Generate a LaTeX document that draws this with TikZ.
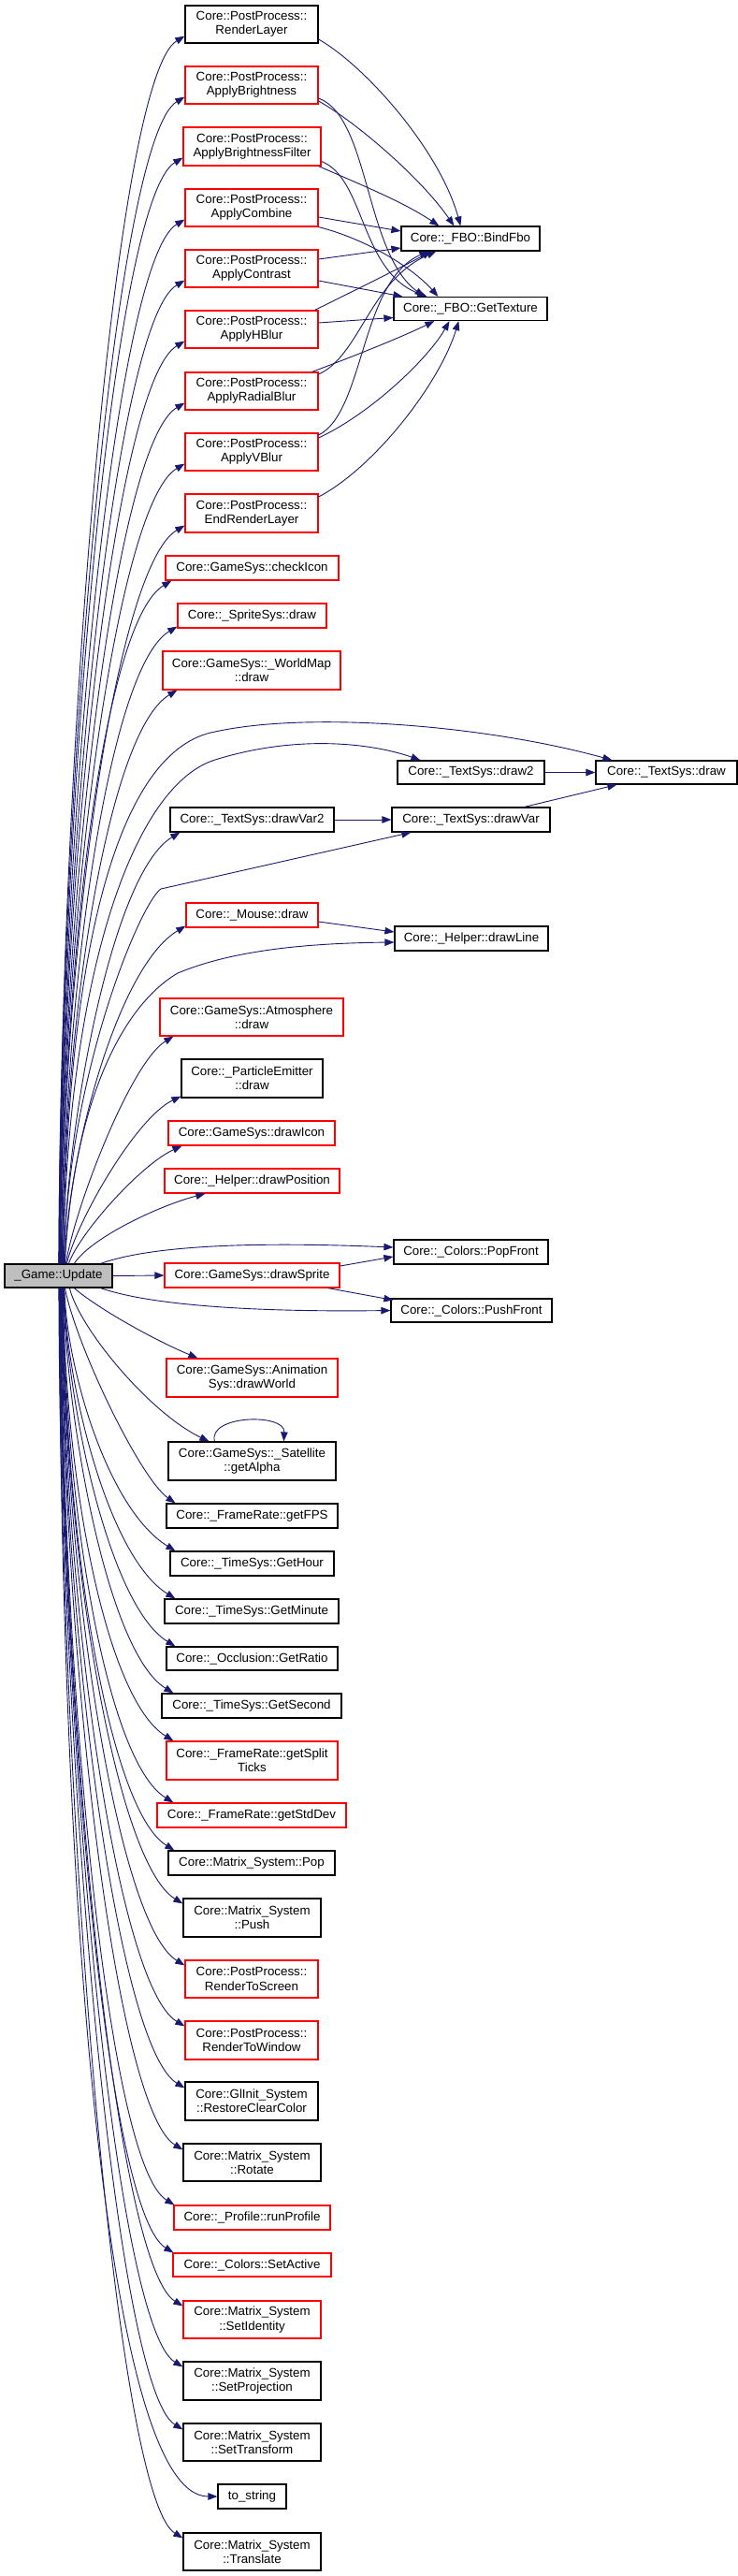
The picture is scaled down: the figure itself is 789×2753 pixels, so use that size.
\documentclass[tikz,border=0pt]{standalone}
\usepackage{fontspec}
\setmainfont{Liberation Sans}
\usetikzlibrary{arrows.meta}
\definecolor{edgec}{HTML}{191970}
\definecolor{updfill}{HTML}{BFBFBF}
\newcommand\fnt{\fontsize{13.33pt}{15.3pt}\selectfont}
\tikzset{
  nb/.style={draw=black, fill=white, line width=1.2pt, inner sep=0pt, align=center, font=\fnt},
  nr/.style={nb, draw=red},
  ng/.style={nb, fill=updfill},
  e/.style={draw=edgec, line width=0.9pt, -{Triangle[length=10pt,width=7.5pt]}}
}
\begin{document}
\begin{tikzpicture}[x=1pt,y=-1pt]
\fill[white, use as bounding box] (0,0) rectangle (789,2753);
% upper column
\node[nb, minimum width=142, minimum height=40] (rl) at (269,26) {Core::PostProcess::\\RenderLayer};
\node[nr, minimum width=142, minimum height=40] (ab) at (269,91) {Core::PostProcess::\\ApplyBrightness};
\node[nr, minimum width=147, minimum height=41] (abf) at (269.5,156.5) {Core::PostProcess::\\ApplyBrightnessFilter};
\node[nr, minimum width=142, minimum height=40] (ac) at (269,222) {Core::PostProcess::\\ApplyCombine};
\node[nr, minimum width=142, minimum height=40] (act) at (269,287) {Core::PostProcess::\\ApplyContrast};
\node[nr, minimum width=142, minimum height=40] (ah) at (269,352) {Core::PostProcess::\\ApplyHBlur};
\node[nr, minimum width=142, minimum height=40] (arb) at (269,418) {Core::PostProcess::\\ApplyRadialBlur};
\node[nr, minimum width=142, minimum height=40] (av) at (269,483) {Core::PostProcess::\\ApplyVBlur};
\node[nr, minimum width=142, minimum height=41] (erl) at (269,548.5) {Core::PostProcess::\\EndRenderLayer};
\node[nr, minimum width=185, minimum height=26] (ci) at (269.5,607) {Core::GameSys::checkIcon};
\node[nr, minimum width=159, minimum height=26] (ssd) at (269.5,658) {Core::\_SpriteSys::draw};
\node[nr, minimum width=190, minimum height=41] (wm) at (269,716.5) {Core::GameSys::\_WorldMap\\::draw};
\node[nb, minimum width=157, minimum height=25] (td2) at (503.5,825.5) {Core::\_TextSys::draw2};
\node[nb, minimum width=151, minimum height=25] (td) at (712.5,825.5) {Core::\_TextSys::draw};
\node[nb, minimum width=175, minimum height=26] (dv2) at (269.5,876) {Core::\_TextSys::drawVar2};
\node[nb, minimum width=169, minimum height=26] (dv) at (503.5,876) {Core::\_TextSys::drawVar};
\node[nr, minimum width=141, minimum height=26] (md) at (269.5,978) {Core::\_Mouse::draw};
\node[nb, minimum width=164, minimum height=26] (dl) at (504,1003) {Core::\_Helper::drawLine};
\node[nr, minimum width=196, minimum height=40] (atm) at (269,1087) {Core::GameSys::Atmosphere\\::draw};
\node[nb, minimum width=151, minimum height=41] (pe) at (269.5,1152.5) {Core::\_ParticleEmitter\\::draw};
\node[nr, minimum width=178, minimum height=26] (di) at (269,1211) {Core::GameSys::drawIcon};
\node[nr, minimum width=187, minimum height=26] (dp) at (269.5,1262) {Core::\_Helper::drawPosition};
\node[nb, minimum width=165, minimum height=26] (pf) at (503.5,1338) {Core::\_Colors::PopFront};
\node[ng, minimum width=115, minimum height=25] (upd) at (62.5,1363.5) {\_Game::Update};
\node[nr, minimum width=187, minimum height=26] (ds) at (269.5,1363) {Core::GameSys::drawSprite};
\node[nb, minimum width=172, minimum height=25] (psf) at (504,1400.5) {Core::\_Colors::PushFront};
\node[nr, minimum width=183, minimum height=41] (aw) at (269.5,1472.5) {Core::GameSys::Animation\\Sys::drawWorld};
\node[nb, minimum width=179, minimum height=41] (sat) at (269.5,1561.5) {Core::GameSys::\_Satellite\\::getAlpha};
\node[nb, minimum width=183, minimum height=26] (fps) at (269.5,1620) {Core::\_FrameRate::getFPS};
\node[nb, minimum width=175, minimum height=26] (gh) at (269.5,1671) {Core::\_TimeSys::GetHour};
\node[nb, minimum width=186, minimum height=26] (gm) at (269,1722) {Core::\_TimeSys::GetMinute};
\node[nb, minimum width=183, minimum height=25] (gr) at (269.5,1772.5) {Core::\_Occlusion::GetRatio};
\node[nb, minimum width=192, minimum height=26] (gs) at (269,1823) {Core::\_TimeSys::GetSecond};
\node[nr, minimum width=183, minimum height=41] (gst) at (269.5,1881.5) {Core::\_FrameRate::getSplit\\Ticks};
\node[nr, minimum width=202, minimum height=26] (gsd) at (269,1940) {Core::\_FrameRate::getStdDev};
\node[nb, minimum width=178, minimum height=26] (pop) at (269,1991) {Core::Matrix\_System::Pop};
\node[nb, minimum width=147, minimum height=41] (push) at (269.5,2049.5) {Core::Matrix\_System\\::Push};
\node[nr, minimum width=142, minimum height=40] (rts) at (269,2115) {Core::PostProcess::\\RenderToScreen};
\node[nr, minimum width=142, minimum height=41] (rtw) at (269,2180.5) {Core::PostProcess::\\RenderToWindow};
\node[nb, minimum width=142, minimum height=41] (rcc) at (269,2245.5) {Core::GlInit\_System\\::RestoreClearColor};
\node[nb, minimum width=147, minimum height=40] (rot) at (269.5,2311) {Core::Matrix\_System\\::Rotate};
\node[nr, minimum width=167, minimum height=26] (rp) at (269.5,2370) {Core::\_Profile::runProfile};
\node[nr, minimum width=169, minimum height=25] (sa) at (269.5,2420.5) {Core::\_Colors::SetActive};
\node[nr, minimum width=147, minimum height=40] (si) at (269.5,2479) {Core::Matrix\_System\\::SetIdentity};
\node[nb, minimum width=147, minimum height=41] (sp) at (269.5,2544.5) {Core::Matrix\_System\\::SetProjection};
\node[nb, minimum width=147, minimum height=40] (st) at (269.5,2610) {Core::Matrix\_System\\::SetTransform};
\node[nb, minimum width=73, minimum height=26] (ts) at (269.5,2668) {to\_string};
\node[nb, minimum width=147, minimum height=40] (tr) at (269.5,2727) {Core::Matrix\_System\\::Translate};
\node[nb, minimum width=148, minimum height=26] (bf) at (503,255) {Core::\_FBO::BindFbo};
\node[nb, minimum width=164, minimum height=25] (gt) at (503,330) {Core::\_FBO::GetTexture};

% Update -> upper column
\draw[e] ([xshift=58.5pt]upd.north west) .. controls (64.5,800) and (123,83) .. ([yshift=8pt]rl.south west);
\draw[e] ([xshift=58.5pt]upd.north west) .. controls (64.5,827) and (123,148) .. ([yshift=8pt]ab.south west);
\draw[e] ([xshift=59pt]upd.north west) .. controls (65,854) and (121,213) .. ([yshift=9pt]abf.south west);
\draw[e] ([xshift=59pt]upd.north west) .. controls (65,882) and (123,279) .. ([yshift=8pt]ac.south west);
\draw[e] ([xshift=59.5pt]upd.north west) .. controls (65.5,909) and (123,344) .. ([yshift=8pt]act.south west);
\draw[e] ([xshift=59.5pt]upd.north west) .. controls (65.5,936) and (123,409) .. ([yshift=8pt]ah.south west);
\draw[e] ([xshift=60pt]upd.north west) .. controls (66,964) and (123,475) .. ([yshift=8pt]arb.south west);
\draw[e] ([xshift=60pt]upd.north west) .. controls (66,991) and (123,540) .. ([yshift=8pt]av.south west);
\draw[e] ([xshift=61pt]upd.north west) .. controls (67,1019) and (123,606) .. ([yshift=8pt]erl.south west);
\draw[e] ([xshift=61pt]upd.north west) .. controls (67,1044) and (109,665) .. ([xshift=7pt]ci.south west);
\draw[e] ([xshift=62pt]upd.north west) .. controls (68,1065) and (115,714) .. ([yshift=2pt]ssd.south west);
\draw[e] ([xshift=62pt]upd.north west) .. controls (68,1093) and (115,782) .. ([xshift=16pt]wm.south west);
\draw[e] ([xshift=63pt]upd.north west) .. controls (72,1000) and (130,800) .. (230,782) .. controls (330,760) and (520,775) .. ([xshift=18pt]td.north west);
\draw[e] ([xshift=63pt]upd.north west) .. controls (72,1050) and (140,840) .. (230,812) .. controls (320,784) and (400,795) .. ([xshift=25pt]td2.north west);
\draw[e] ([xshift=64pt]upd.north west) .. controls (70,1212) and (118,934) .. ([xshift=11pt]dv2.south west);
\draw[e] ([xshift=64pt]upd.north west) .. controls (72,1150) and (150,965) .. (172,950) -- ([xshift=21pt]dv.south west);
\draw[e] ([xshift=65pt]upd.north west) .. controls (71,1242) and (124,1034) .. ([yshift=2pt]md.south west);
\draw[e] ([xshift=65pt]upd.north west) .. controls (78,1180) and (130,1075) .. (190,1040) .. controls (250,1015) and (330,1008) .. ([yshift=-4pt]dl.west);
\draw[e] ([xshift=66pt]upd.north west) .. controls (80,1290) and (140,1135) .. ([xshift=15pt]atm.south west);
\draw[e] ([xshift=67pt]upd.north west) .. controls (82,1305) and (145,1195) .. ([yshift=2pt]pe.south west);
\draw[e] ([xshift=69pt]upd.north west) .. controls (85,1318) and (150,1245) .. ([xshift=15pt]di.south west);
\draw[e] ([xshift=75pt]upd.north west) .. controls (95,1325) and (165,1290) .. ([xshift=44pt]dp.south west);
\draw[e] ([xshift=-13pt]upd.north east) .. controls (170,1328) and (300,1328) .. ([yshift=5pt]pf.west);
\draw[e] (upd.east) -- (ds.west);
\draw[e] ([xshift=-13pt]upd.south east) .. controls (170,1398) and (300,1402) .. (psf.west);

% Update -> lower column
\draw[e] ([xshift=75pt]upd.south west) .. controls (100,1395) and (160,1430) .. ([xshift=34pt]aw.north west);
\draw[e] ([xshift=70pt]upd.south west) .. controls (85,1420) and (160,1510) .. ([xshift=44pt]sat.north west);
\draw[e] ([xshift=65pt]upd.south west) .. controls (82,1440) and (150,1580) .. ([xshift=10pt]fps.north west);
\draw[e] ([xshift=64.5pt]upd.south west) .. controls (70.5,1461) and (115,1613) .. ([xshift=6pt]gh.north west);
\draw[e] ([xshift=64pt]upd.south west) .. controls (70,1476) and (115,1664) .. ([xshift=12pt]gm.north west);
\draw[e] ([xshift=64pt]upd.south west) .. controls (70,1491) and (115,1715) .. ([xshift=10pt]gr.north west);
\draw[e] ([xshift=63.5pt]upd.south west) .. controls (69.5,1506) and (113,1765) .. ([xshift=13pt]gs.north west);
\draw[e] ([xshift=63pt]upd.south west) .. controls (69,1580) and (113,1816) .. ([xshift=8pt]gst.north west);
\draw[e] ([xshift=63pt]upd.south west) .. controls (69,1607) and (113,1882) .. ([xshift=18pt]gsd.north west);
\draw[e] ([xshift=62.5pt]upd.south west) .. controls (68.5,1629) and (114,1933) .. ([xshift=7pt]pop.north west);
\draw[e] ([xshift=62pt]upd.south west) .. controls (68,1653) and (123,1990) .. ([yshift=-6pt]push.north west);
\draw[e] ([xshift=62pt]upd.south west) .. controls (68,1681) and (125,2056) .. ([yshift=-6pt]rts.north west);
\draw[e] ([xshift=61.5pt]upd.south west) .. controls (67.5,1708) and (125,2122) .. ([yshift=-6pt]rtw.north west);
\draw[e] ([xshift=61pt]upd.south west) .. controls (67,1736) and (125,2187) .. ([yshift=-7pt]rcc.north west);
\draw[e] ([xshift=61pt]upd.south west) .. controls (67,1763) and (123,2253) .. ([yshift=-7pt]rot.north west);
\draw[e] ([xshift=60.5pt]upd.south west) .. controls (66.5,1788) and (114,2312) .. ([xshift=1pt]rp.north west);
\draw[e] ([xshift=60pt]upd.south west) .. controls (66,1809) and (113,2363) .. ([xshift=1pt]sa.north west);
\draw[e] ([xshift=60pt]upd.south west) .. controls (66,1833) and (123,2420) .. ([yshift=-6pt]si.north west);
\draw[e] ([xshift=59.5pt]upd.south west) .. controls (65.5,1861) and (123,2486) .. ([yshift=-6pt]sp.north west);
\draw[e] ([xshift=59pt]upd.south west) .. controls (65,1889) and (123,2552) .. ([yshift=-7pt]st.north west);
\draw[e] ([xshift=59pt]upd.south west) .. controls (65,2000) and (110,2668) .. (ts.west);
\draw[e] ([xshift=58.5pt]upd.south west) .. controls (64.5,1938) and (123,2668) .. ([yshift=-6pt]tr.north west);

% second level
\draw[e] (td2.east) -- (td.west);
\draw[e] (dv2.east) -- (dv.west);
\draw[e] ([xshift=-28pt]dv.north east) -- ([xshift=23pt]td.south west);
\draw[e] ([yshift=-7pt]md.east) -- ([yshift=7pt]dl.west);
\draw[e] ([yshift=10pt]ds.east) -- ([yshift=-5pt]pf.west);
\draw[e] ([xshift=-13pt]ds.south east) -- ([xshift=3pt,yshift=-2pt]psf.north west);
\draw[e] ([xshift=50pt]sat.north west) .. controls (222,1512) and (305,1510) .. ([xshift=124pt]sat.north west);

% PostProcess -> FBO
\draw[e] ([yshift=-16pt]rl.east) .. controls (390,70) and (470,160) .. ([xshift=64pt]bf.north west);
\draw[e] ([yshift=-17pt]ab.east) .. controls (380,130) and (450,190) .. ([xshift=57pt]bf.north west);
\draw[e] ([yshift=-14pt]ab.east) .. controls (395,125) and (390,270) .. ([xshift=33pt]gt.north west);
\draw[e] ([xshift=-3pt]abf.south east) .. controls (380,195) and (430,215) .. ([xshift=41pt]bf.north west);
\draw[e] ([yshift=-16pt]abf.east) .. controls (390,190) and (385,290) .. ([xshift=36pt]gt.north west);
\draw[e] ([yshift=-10pt]ac.east) -- ([yshift=8pt]bf.west);
\draw[e] (ac.south east) .. controls (390,255) and (440,285) .. ([xshift=48pt]gt.north west);
\draw[e] ([yshift=10pt]act.east) -- ([yshift=-10pt]bf.west);
\draw[e] ([yshift=-13pt]act.east) -- ([xshift=10pt]gt.north west);
\draw[e] ([xshift=-4pt]ah.north east) .. controls (380,310) and (430,285) .. ([xshift=33pt]bf.south west);
\draw[e] ([yshift=7pt]ah.east) -- ([yshift=-9.5pt]gt.west);
\draw[e] ([yshift=18pt]arb.east) .. controls (385,380) and (395,300) .. ([xshift=38pt]bf.south west);
\draw[e] ([xshift=-7pt]arb.north east) .. controls (380,380) and (430,360) .. ([xshift=44pt]gt.south west);
\draw[e] ([yshift=18pt]av.east) .. controls (390,440) and (385,300) .. ([xshift=30pt]bf.south west);
\draw[e] ([yshift=15pt]av.east) .. controls (400,440) and (460,380) .. ([xshift=60pt]gt.south west);
\draw[e] ([yshift=17.5pt]erl.east) .. controls (400,500) and (470,410) .. ([xshift=70pt]gt.south west);
\end{tikzpicture}
\end{document}
